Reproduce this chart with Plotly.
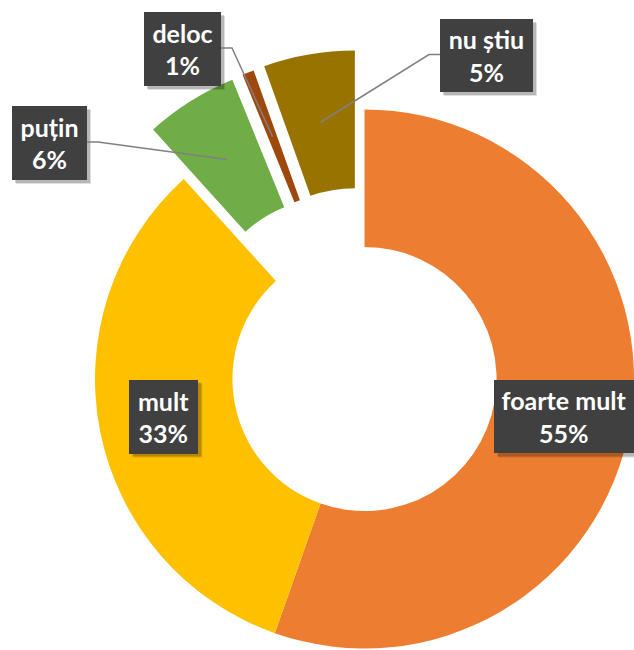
import math
import plotly.graph_objects as go

# ---- data (shares in %; labels as printed) ----
categories = ["foarte mult", "mult", "puțin", "deloc", "nu știu"]
values = [55.4, 32.9, 5.55, 0.7, 5.45]
percent_labels = ["55%", "33%", "6%", "1%", "5%"]

# ---- styles / layout ----
colors = ["#ED7D31", "#FFC000", "#70AD47", "#9E480E", "#997300"]
pull = [0, 0, 0.215, 0.215, 0.22]        # explode fraction of radius
OFF = 0                                  # page body margin (set to 0 below)
W, H = 634, 650                          # figure size
CX, CY = 365, 379                        # donut centre, window pixels
R = 270                                  # outer radius, pixels
HOLE = 0.49
FONT = "Lato"
FONT_SIZE = 25
BOX_BG = "#404040"
LINE_COLOR = "#808080"

# manual label boxes (centre x, centre y, width, height) for pulled slices
manual_boxes = {2: (49.5, 143, 75, 74), 3: (182.5, 49, 77, 74), 4: (486.5, 55.5, 93, 73)}
auto_box_size = {0: (140, 73), 1: (69, 74)}
auto_box_shift = {0: (1, 4), 1: (-4, -2)}
leader_side = {2: 1, 3: 1, 4: -1}        # +1: line leaves right side, -1: left side


def fx(px):
    return (px - OFF) / W


def fy(py):
    return 1 - (py - OFF) / H


n = len(values)
total = float(sum(values))
mids = []
acc = 0.0
for v in values:
    mids.append((acc + v / 2) / total * 2 * math.pi)
    acc += v

centers = []
for k in range(n):
    d = pull[k] * R
    centers.append((CX + d * math.sin(mids[k]), CY - d * math.cos(mids[k])))

fig = go.Figure()
for k in range(n):
    cx, cy = centers[k]
    slice_colors = [colors[i] if i == k else "rgba(0,0,0,0)" for i in range(n)]
    fig.add_trace(go.Pie(
        labels=categories, values=values, sort=False, direction="clockwise",
        rotation=0, hole=HOLE, textinfo="none", showlegend=False,
        marker=dict(colors=slice_colors, line=dict(width=0)),
        domain=dict(x=[fx(cx - R), min(1.0, fx(cx + R))], y=[max(0.0, fy(cy + R)), fy(cy - R)]),
    ))

ring_r = R * (1 + HOLE) / 2
shapes = []
annotations = []
for k in range(n):
    cx, cy = centers[k]
    if k in manual_boxes:
        bx, by, bw, bh = manual_boxes[k]
    else:
        bw, bh = auto_box_size[k]
        sx, sy = auto_box_shift[k]
        bx = cx + ring_r * math.sin(mids[k]) + sx
        by = cy - ring_r * math.cos(mids[k]) + sy
    # shadow
    for off, alpha in ((4, 0.12), (3, 0.18)):
        shapes.append(dict(type="rect", xref="paper", yref="paper",
                           x0=fx(bx - bw / 2 + off), x1=fx(bx + bw / 2 + off),
                           y0=fy(by + bh / 2 + off), y1=fy(by - bh / 2 + off),
                           fillcolor="rgba(0,0,0,%.2f)" % alpha, line=dict(width=0)))
    # leader line
    if k in leader_side:
        s = leader_side[k]
        x0 = bx + s * bw / 2
        x1 = x0 + s * 11
        ex = cx + 0.745 * R * math.sin(mids[k])
        ey = cy - 0.745 * R * math.cos(mids[k])
        path = "M %.5f,%.5f L %.5f,%.5f L %.5f,%.5f" % (fx(x0), fy(by - 1), fx(x1), fy(by - 1), fx(ex), fy(ey))
        shapes.append(dict(type="path", xref="paper", yref="paper", path=path,
                           line=dict(color=LINE_COLOR, width=1.5)))
    annotations.append(dict(
        xref="paper", yref="paper", x=fx(bx), y=fy(by), xanchor="center", yanchor="middle",
        width=bw, height=bh, showarrow=False, bgcolor=BOX_BG, borderpad=0, borderwidth=0,
        text="<b>%s</b><br><b>%s</b>" % (categories[k], percent_labels[k]),
        font=dict(family=FONT, size=FONT_SIZE, color="white"), align="center", valign="middle",
    ))

fig.update_layout(
    width=W, height=H, margin=dict(l=0, r=0, t=0, b=0),
    paper_bgcolor="white", plot_bgcolor="white", showlegend=False,
    shapes=shapes, annotations=annotations,
)

fig.write_html("out.html", config={"displayModeBar": False},
               post_script="document.body.style.margin='0px';")
